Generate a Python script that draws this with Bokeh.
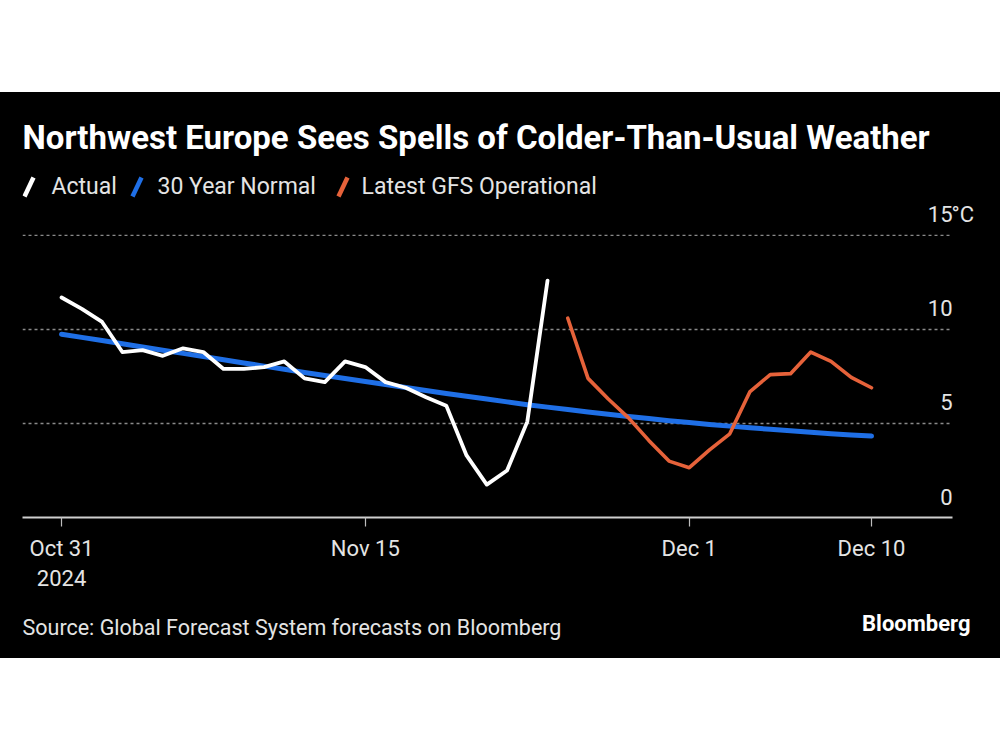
import pandas as pd
from bokeh.plotting import figure
from bokeh.models import Range1d, FixedTicker, Label, Spacer
from bokeh.layouts import column
from bokeh.embed import file_html
from bokeh.resources import INLINE

# ---------------- data ----------------
start = pd.Timestamp("2024-10-31")
actual_dates = pd.date_range("2024-10-31", "2024-11-24")
actual = [11.7, 11.1, 10.4, 8.8, 8.9, 8.6, 9.0, 8.8, 7.9, 7.9, 8.0, 8.3, 7.4, 7.2,
          8.3, 8.0, 7.2, 6.9, 6.4, 5.95, 3.3, 1.75, 2.5, 5.1, 12.6]
normal_dates = pd.date_range("2024-10-31", "2024-12-10")
normal = [9.75, 9.58, 9.41, 9.24, 9.07, 8.90, 8.73, 8.56, 8.39, 8.22, 8.05, 7.88,
          7.71, 7.55, 7.39, 7.23, 7.07, 6.91, 6.75, 6.60, 6.45, 6.30, 6.15, 6.00,
          5.87, 5.74, 5.61, 5.49, 5.37, 5.26, 5.15, 5.05, 4.95, 4.86, 4.77, 4.69,
          4.61, 4.53, 4.46, 4.39, 4.33]
gfs_dates = pd.date_range("2024-11-25", "2024-12-10")
gfs = [10.6, 7.4, 6.3, 5.3, 4.1, 3.0, 2.65, 3.6, 4.45, 6.7, 7.6, 7.65, 8.8, 8.3,
       7.45, 6.9]

x_tick_dates = ["2024-10-31", "2024-11-15", "2024-12-01", "2024-12-10"]
x_tick_labels = ["Oct 31\n2024", "Nov 15", "Dec 1", "Dec 10"]
y_ticks = [0, 5, 10, 15]
y_tick_labels = ["0", "5", "10", "15"]
y_unit = "°C"

title = "Northwest Europe Sees Spells of Colder-Than-Usual Weather"
series_names = ["Actual", "30 Year Normal", "Latest GFS Operational"]
source_text = "Source: Global Forecast System forecasts on Bloomberg"
brand = "Bloomberg"

WHITE = "#ffffff"
BLUE = "#1f6fe6"
ORANGE = "#e6623a"
TEXT = "#e4e4e4"
FONT = "Roboto"
W = 1000
LEFT, RIGHT = 22, 20
FW = W - LEFT - RIGHT
PX_PER_DAY = 20.25


def days(d):
    return [(pd.Timestamp(v) - start).days for v in d]


def blank_fig(h):
    f = figure(width=W, height=h, output_backend="svg", toolbar_location=None,
               x_range=Range1d(0, FW), y_range=Range1d(0, h),
               x_axis_location=None, y_axis_location=None,
               background_fill_color=None, border_fill_color=None,
               outline_line_color=None, min_border_left=LEFT,
               min_border_right=RIGHT, min_border_top=0, min_border_bottom=0)
    f.xgrid.visible = False
    f.ygrid.visible = False
    return f


# ---------------- header: title + legend ----------------
HEAD_H = 108
head = blank_fig(HEAD_H)
head.add_layout(Label(x=0, y=63, x_units="screen", y_units="screen", text=title,
                      text_color="white", text_font=FONT, text_font_style="bold",
                      text_font_size="33px", text_baseline="alphabetic"))
legend_colors = [WHITE, BLUE, ORANGE]
legend_mark_x = [2, 110, 316]
legend_text_x = [29, 135, 339]
head.segment(x0=legend_mark_x, y0=[4] * 3,
             x1=[m + 9 for m in legend_mark_x], y1=[23] * 3,
             line_color=legend_colors, line_width=4.5)
for name, tx in zip(series_names, legend_text_x):
    head.add_layout(Label(x=tx, y=14, x_units="screen", y_units="screen", text=name,
                          text_color=TEXT, text_font=FONT,
                          text_font_size="23px", text_baseline="alphabetic"))

# ---------------- main chart ----------------
x_start, grid_end = -1.93, 44.0
x_end = grid_end + (W - RIGHT - 952) / PX_PER_DAY
y_start, y_end = 0, 16.86

p = figure(width=W, height=395, output_backend="svg", toolbar_location=None,
           x_range=Range1d(x_start, x_end), y_range=Range1d(y_start, y_end),
           y_axis_location=None, background_fill_color=None,
           border_fill_color=None, outline_line_color=None,
           min_border_left=LEFT, min_border_right=RIGHT, min_border_top=0,
           min_border_bottom=78)
for g in p.xgrid + p.ygrid:
    g.visible = False

# dotted horizontal gridlines, ending where the axis ends
grid_vals = y_ticks[1:]
p.segment(x0=[x_start] * len(grid_vals), x1=[grid_end] * len(grid_vals),
          y0=grid_vals, y1=grid_vals, line_color="#8a8a8a", line_dash="3 3",
          line_width=1.3)

ax = p.xaxis[0]
tick_x = days(x_tick_dates)
ax.bounds = (x_start, grid_end)
ax.ticker = FixedTicker(ticks=tick_x)
ax.major_label_overrides = {t: lab for t, lab in zip(tick_x, x_tick_labels)}
ax.axis_line_color = "#cfcfcf"
ax.axis_line_width = 2
ax.major_tick_line_color = "#bdbdbd"
ax.major_tick_line_width = 1.2
ax.major_tick_in = 0
ax.major_tick_out = 9
ax.minor_tick_line_color = None
ax.major_label_text_color = TEXT
ax.major_label_text_font = FONT
ax.major_label_text_font_size = "22px"
ax.major_label_standoff = 9

p.line(days(normal_dates), normal, line_color=BLUE, line_width=5,
       line_join="round", line_cap="round")
p.line(days(actual_dates), actual, line_color=WHITE, line_width=3.8,
       line_join="round", line_cap="round")
p.line(days(gfs_dates), gfs, line_color=ORANGE, line_width=3.6,
       line_join="round", line_cap="round")

for t, lab in zip(y_ticks, y_tick_labels):
    p.add_layout(Label(x=grid_end, y=t, text=lab, text_align="right",
                       text_baseline="alphabetic", y_offset=21,
                       text_color=TEXT, text_font=FONT, text_font_size="22px"))
p.add_layout(Label(x=grid_end, y=y_ticks[-1], text=y_unit, x_offset=-1,
                   text_align="left", text_baseline="alphabetic", y_offset=21,
                   text_color=TEXT, text_font=FONT, text_font_size="22px"))

# ---------------- footer ----------------
FOOT_H = 63
foot = blank_fig(FOOT_H)
foot.add_layout(Label(x=0, y=31, x_units="screen", y_units="screen",
                      text=source_text, text_color=TEXT, text_font=FONT,
                      text_font_size="21.5px", text_baseline="alphabetic"))
foot.add_layout(Label(x=948, y=35, x_units="screen", y_units="screen",
                      text=brand, text_color="white", text_font=FONT,
                      text_font_style="bold", text_font_size="22px",
                      text_align="right", text_baseline="alphabetic"))

panel = column(head, p, foot, spacing=0, styles={"background-color": "black"})
layout = column(Spacer(width=W, height=92), panel, Spacer(width=W, height=92),
                spacing=0)
open("out.html", "w").write(file_html(layout, INLINE))
